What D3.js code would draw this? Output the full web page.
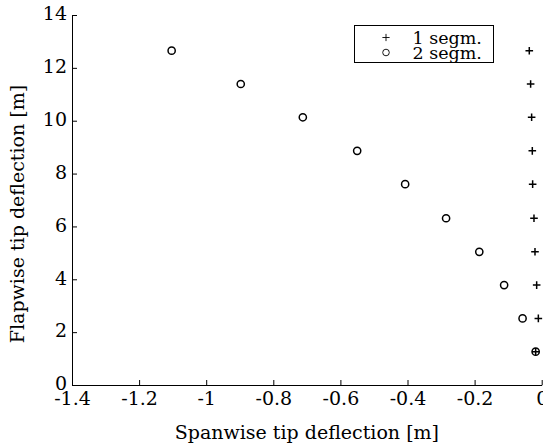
<!DOCTYPE html>
<html>
<head>
<meta charset="utf-8">
<script src="https://cdn.jsdelivr.net/npm/d3@7"></script>
<style>
  html, body { margin: 0; padding: 0; background: #fff; }
  svg { display: block; }
  svg text { font-family: "DejaVu Serif", "Liberation Serif", serif; fill: #000; }
</style>
</head>
<body>
<svg id="chart" width="543" height="445"></svg>
<script>
// Flapwise vs. spanwise tip deflection for two blade discretisations
const flapwise = [1.26, 2.52, 3.78, 5.04, 6.31, 7.60, 8.86, 10.13, 11.39, 12.65];
const spanwise1 = [-0.018, -0.010, -0.015, -0.020, -0.023, -0.027, -0.028, -0.030, -0.033, -0.037];
const spanwise2 = [-0.018, -0.057, -0.112, -0.186, -0.285, -0.407, -0.550, -0.712, -0.897, -1.103];
const seriesNames = ["1 segm.", "2 segm."];
const xTicks = [-1.4, -1.2, -1, -0.8, -0.6, -0.4, -0.2, 0];
const yTicks = [0, 2, 4, 6, 8, 10, 12, 14];

const svg = d3.select("#chart");
const plot = { left: 72, right: 541.7, top: 15, bottom: 385 };
const fontSize = 19;
const serif = "DejaVu Serif, serif";

const x = d3.scaleLinear().domain([-1.4, 0]).range([plot.left, plot.right]);
const y = d3.scaleLinear().domain([0, 14]).range([plot.bottom, plot.top]);

// Axes with inward ticks
const xAxis = d3.axisBottom(x).tickValues(xTicks).tickSizeInner(-5).tickSizeOuter(0)
  .tickFormat(d => String(d));
const yAxis = d3.axisLeft(y).tickValues(yTicks).tickSizeInner(-5).tickSizeOuter(0)
  .tickFormat(d => String(d));

const gx = svg.append("g").attr("transform", `translate(0,${plot.bottom})`).call(xAxis);
const gy = svg.append("g").attr("transform", `translate(${plot.left},0)`).call(yAxis);

[gx, gy].forEach(g => {
  g.attr("font-family", serif).attr("font-size", fontSize);
  g.select(".domain").attr("stroke", "#000").attr("stroke-width", 1);
  g.selectAll(".tick line").attr("stroke", "#000").attr("stroke-width", 1);
  g.selectAll(".tick text").attr("fill", "#000");
});
gx.selectAll(".tick text").attr("y", 7).attr("dy", "0.71em");
gy.selectAll(".tick text").attr("x", -5).attr("dy", "0.25em");

// Axis titles
svg.append("text")
  .attr("x", (plot.left + plot.right) / 2)
  .attr("y", 439)
  .attr("text-anchor", "middle")
  .attr("font-size", fontSize)
  .text("Spanwise tip deflection [m]");

svg.append("text")
  .attr("transform", `translate(24,${(plot.top + plot.bottom) / 2 + 14}) rotate(-90)`)
  .attr("text-anchor", "middle")
  .attr("font-size", fontSize)
  .text("Flapwise tip deflection [m]");

// Series 1: plus markers
const plusPath = s => `M${-s},0H${s}M0,${-s}V${s}`;
svg.append("g").selectAll("path")
  .data(flapwise.map((v, i) => [spanwise1[i], v]))
  .join("path")
  .attr("transform", d => `translate(${x(d[0])},${y(d[1])})`)
  .attr("d", plusPath(3.8))
  .attr("stroke", "#000")
  .attr("stroke-width", 1.5)
  .attr("fill", "none");

// Series 2: open circles
svg.append("g").selectAll("circle")
  .data(flapwise.map((v, i) => [spanwise2[i], v]))
  .join("circle")
  .attr("cx", d => x(d[0]))
  .attr("cy", d => y(d[1]))
  .attr("r", 3.6)
  .attr("stroke", "#000")
  .attr("stroke-width", 1.5)
  .attr("fill", "none");

// Legend
const legend = svg.append("g");
legend.append("rect")
  .attr("x", 354.5).attr("y", 25.5)
  .attr("width", 139).attr("height", 37)
  .attr("fill", "#fff").attr("stroke", "#000").attr("stroke-width", 1);

const rows = [37.5, 52.5];
legend.append("path")
  .attr("transform", `translate(386,${rows[0]})`)
  .attr("d", plusPath(3.6))
  .attr("stroke", "#000").attr("stroke-width", 0.9).attr("fill", "none");
legend.append("circle")
  .attr("cx", 386).attr("cy", rows[1]).attr("r", 3.3)
  .attr("stroke", "#000").attr("stroke-width", 0.9).attr("fill", "none");

legend.selectAll("text.lg")
  .data(seriesNames)
  .join("text")
  .attr("class", "lg")
  .attr("x", 412.5)
  .attr("y", (d, i) => rows[i] + 6.5)
  .attr("font-size", 17.5)
  .text(d => d);
</script>
</body>
</html>
